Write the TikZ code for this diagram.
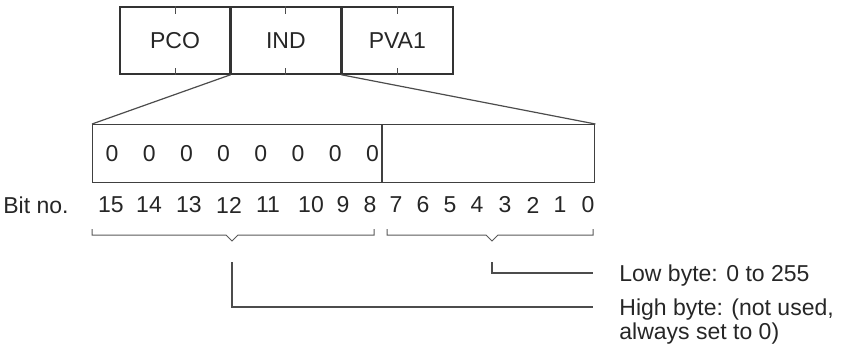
\documentclass[tikz,border=0pt]{standalone}
\usepackage{fontspec}
\setmainfont{Liberation Sans}
\usetikzlibrary{positioning, calc}

\begin{document}
\begin{tikzpicture}[x=0.5pt, y=-0.5pt,
    every node/.style={font=\fontsize{11.5}{11.5}\selectfont, text=black!85},
    cellbox/.style={draw=black!80, line width=0.7pt, minimum height=33.5pt, inner sep=0pt},
    bytebox/.style={draw=black!75, line width=0.6pt, minimum height=29pt, inner sep=0pt},
    tick/.style={draw=black!70, line width=0.5pt},
    brace/.style={draw=black!65, line width=0.5pt},
    lead/.style={draw=black!70, line width=0.6pt}]
      \useasboundingbox (0,0) rectangle (844,345);

      % Parameter words
      \node[cellbox, minimum width=55pt] (pco) at (175,40.5) {PCO};
      \node[cellbox, minimum width=54.5pt, right=0pt of pco] (ind) {IND};
      \node[cellbox, minimum width=55.5pt, right=0pt of ind] (pva) {PVA1};
      \foreach \w in {pco, ind, pva} {
        \draw[tick] (\w.north) -- ++(0,8);
        \draw[tick] (\w.south) -- ++(0,-7);
      }

      % Expanded IND word
      \node[bytebox, minimum width=144.5pt, anchor=north west] (hibyte) at (92,124) {};
      \node[bytebox, minimum width=106pt, right=0pt of hibyte] (lobyte) {};
      \draw[lead] (ind.south west) -- (hibyte.north west);
      \draw[lead] (ind.south east) -- (lobyte.north east);
      \foreach \k in {0,...,7}
        \node (z\k) at ($(hibyte.west)+(20+37.2*\k,0)$) {0};

      % Bit numbers
      \node (bitno) at (36,205) {Bit no.};
      \foreach \b/\x in {15/111, 14/149, 13/189, 12/229, 11/268, 10/311, 9/343, 8/370,
                         7/396, 6/423, 5/450, 4/477, 3/505, 2/533, 1/560, 0/588}
        \node (b\b) at (\x,205) {\b};

      % Braces
      \draw[brace] (92,229) -- (92,235) -- (226,235) -- (232,241) -- (238,235) -- (374,235) -- (374,229);
      \draw[brace] (387,229) -- (387,235) -- (486,235) -- (492,241) -- (498,235) -- (593,235) -- (593,229);
      \coordinate (hitip) at (232,262);
      \coordinate (lotip) at (492,262);

      % Legends
      \node[anchor=west, inner sep=0pt] (lotext) at (619,276) {Low byte: 0 to 255};
      \node[anchor=north west, inner sep=0pt, align=left] (hitext) at (619,298)
        {High byte: (not used,\\[0.5pt]always set to 0)};
      \draw[lead] (lotip) |- ([xshift=-13pt]lotext.west |- 0,273);
      \draw[lead] (hitip) |- ([xshift=-13pt]hitext.west |- 0,307);
    \end{tikzpicture}
\end{document}
